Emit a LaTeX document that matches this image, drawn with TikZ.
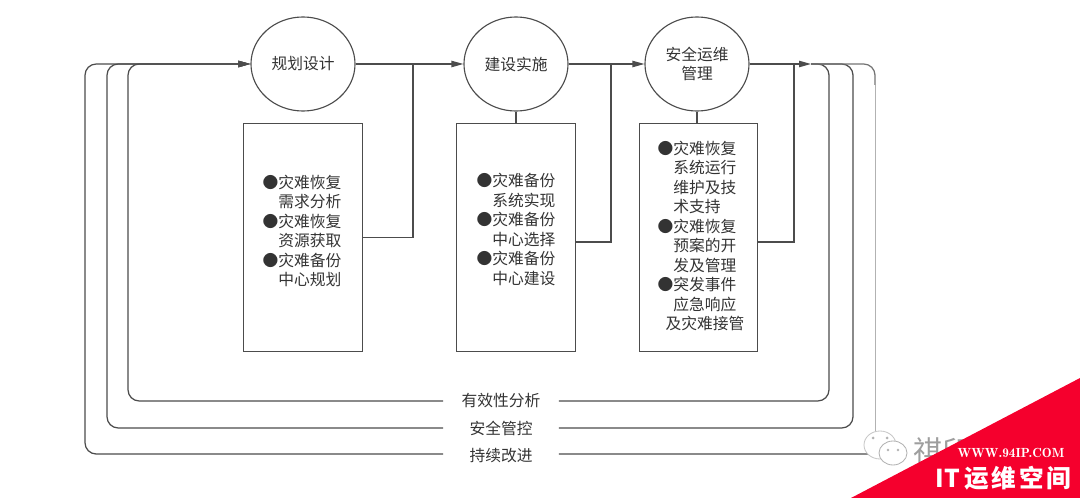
\documentclass[tikz,border=0pt]{standalone}
\usepackage{fontspec}
\setmainfont{Noto Sans CJK SC}
\usetikzlibrary{arrows.meta,shapes.geometric}
\definecolor{linegray}{gray}{0.3}
\definecolor{wmred}{HTML}{F5002D}
\tikzset{
    stage/.style={draw=linegray, ellipse, line width=0.8pt, minimum width=2.6cm, minimum height=2.35cm, inner sep=0pt, align=center, font=\fontsize{11.2}{14}\selectfont, text=black!80},
    panel/.style={draw=linegray, rectangle, line width=0.7pt, minimum width=2.95cm, minimum height=5.72cm, inner sep=0pt},
    items/.style={align=left, inner sep=0pt, font=\fontsize{11.2}{13.9}\selectfont, text=black!80},
    looplabel/.style={minimum width=2.875cm, inner sep=0pt, font=\fontsize{11.2}{14}\selectfont, text=black!80},
    link/.style={draw=linegray, line width=0.9pt},
    feedback/.style={link, rounded corners=8pt}
}
\newcommand{\itemhead}[1]{●#1}
\newcommand{\itemrest}[1]{\hspace*{1em}#1}
\begin{document}
\begin{tikzpicture}[x=0.025cm, y=-0.025cm, >={Stealth[length=8.5pt,width=4.5pt,inset=0pt]}]
                \useasboundingbox (0,0) rectangle (1080,498);

                % Nodes
                \node[stage] at (303,64) (plan) {规划设计};
                \node[stage] at (516,64) (build) {建设实施};
                \node[stage] at (697,64) (ops) {安全运维\\管理};

                \node[panel] at (303,237.5) (planbox) {};
                \node[panel] at (516,237.5) (buildbox) {};
                \node[panel] at (698.5,237.5) (opsbox) {};

                \node[items] at (302,231) (plantext) {\itemhead{灾难恢复}\\\itemrest{需求分析}\\\itemhead{灾难恢复}\\\itemrest{资源获取}\\\itemhead{灾难备份}\\\itemrest{中心规划}};
                \node[items] at (516,229.5) (buildtext) {\itemhead{灾难备份}\\\itemrest{系统实现}\\\itemhead{灾难备份}\\\itemrest{中心选择}\\\itemhead{灾难备份}\\\itemrest{中心建设}};
                \node[items] at (701,236) (opstext) {\itemhead{灾难恢复}\\\itemrest{系统运行}\\\itemrest{维护及技}\\\itemrest{术支持}\\\itemhead{灾难恢复}\\\itemrest{预案的开}\\\itemrest{发及管理}\\\itemhead{突发事件}\\\itemrest{应急响应}\\\hspace*{0.5em}及灾难接管};

                \node[looplabel] at (501,401) (review) {有效性分析};
                \node[looplabel] at (501,428) (control) {安全管控};
                \node[looplabel] at (501,456) (improve) {持续改进};

                \coordinate (planjoin) at (413,64);
                \coordinate (buildjoin) at (611,64);
                \coordinate (opsjoin) at (794,64);
                \coordinate (merge) at (811,64);
                \coordinate (leftin) at (128,64);
                \coordinate (leftmid) at (107,64);
                \coordinate (leftout) at (85,64);
                \coordinate (rightin) at (829,64);
                \coordinate (rightmid) at (853,64);
                \coordinate (rightout) at (875,64);
                \coordinate (turnend) at (875,85);
                \coordinate (botend) at (868,454);

                % Edges
                \draw[link,->] (plan) -- (build);
                \draw[link,->] (build) -- (ops);
                \draw[link,->] (ops) -- (merge);

                \draw[link] (build) -- (buildbox);
                \draw[link] (ops) -- (ops |- opsbox.north);

                \draw[link] (planbox.east) -| (planjoin);
                \draw[link] ([yshift=-3.2pt]buildbox.east) -| (buildjoin);
                \draw[link] ([yshift=-3.2pt]opsbox.east) -| (opsjoin);

                \draw[feedback,->] (review.west) -| (leftin) -- (plan.west);
                \draw[feedback,->] (control.west) -| (leftmid) -- (plan.west);
                \draw[feedback,->] ([yshift=1.4pt]improve.west) -| (leftout) -- (plan.west);

                \draw[feedback] (review.east) -| (rightin) -- (merge);
                \draw[feedback] (control.east) -| (rightmid) -- (merge);
                \draw[draw=black!30,line width=0.7pt] (turnend) -- (botend -| rightout);
                \draw[feedback,draw=black!55] (merge) -| (turnend);
                \draw[link] ([yshift=1.4pt]improve.east) -- (botend);

                % Watermark
                \node[inner sep=0pt, text=black!38, font=\fontsize{21}{21}\selectfont, anchor=west] at (913,451) (wmname) {祺印};
                \filldraw[fill=white, draw=black!22, line width=0.6pt] (880,445) ellipse (16 and 14);
                \filldraw[fill=black!30, draw=none] (873,438) circle (1.5) (887,438) circle (1.5);
                \filldraw[fill=white, draw=black!30, line width=0.6pt] (893,453) ellipse (14 and 12);
                \filldraw[fill=black!30, draw=none] (888,450) circle (1.3) (898,450) circle (1.3);
                \fill[wmred] (851,498) -- (1080,378) -- (1080,498) -- cycle;
                \node[inner sep=0pt, text=white, font=\fontfamily{lmr}\fontsize{9.4}{10}\bfseries\selectfont] at (1011,453) (wmurl) {WWW.94IP.COM};
                \node[inner sep=0pt, text=white, font=\fontsize{17.5}{18}\bfseries\selectfont] at (1003.5,478) (wmbrand) {IT\hspace{3pt}运\hspace{2pt}维\hspace{2pt}空\hspace{2pt}间};
            \end{tikzpicture}
\end{document}
